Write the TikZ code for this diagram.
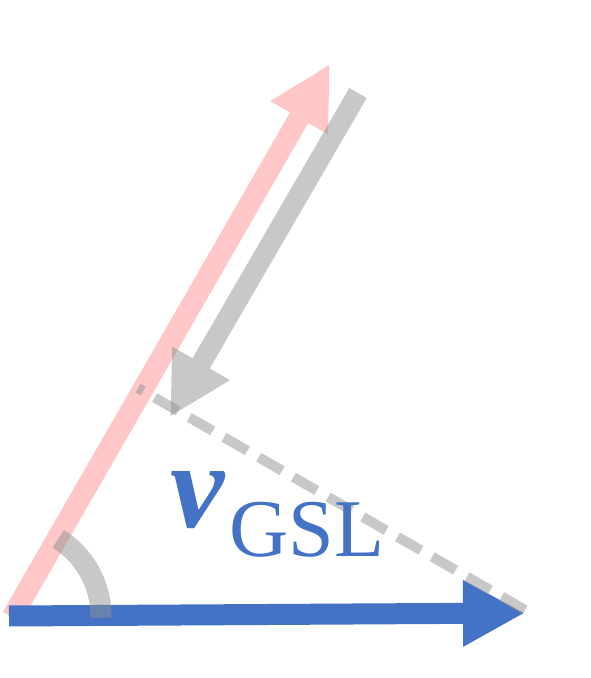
\documentclass[tikz,border=0pt]{standalone}
\usepackage{fontspec}
\setmainfont{Liberation Serif}
\usetikzlibrary{arrows.meta}
\definecolor{vblue}{HTML}{4472C4}
\definecolor{vpink}{RGB}{255,143,143}
\definecolor{vgray}{RGB}{145,145,145}

\begin{document}
\begin{tikzpicture}[x=1pt, y=1pt,
                    fat/.style={line width=21pt,
                      -{Triangle[length=62pt,width=62pt]}}]
  \useasboundingbox (0,0) rectangle (590,678);
  \coordinate (o) at (9,62);
  \coordinate (b) at (525,65);
  \coordinate (p0) at (12,61);
  \coordinate (p) at (330,614);
  \coordinate (g0) at (358,585);
  \coordinate (g) at (170,261);
  \coordinate (f) at (138,290);
  % velocity along the slope and back
  \begin{scope}[transparency group, opacity=0.5]
    \draw[fat, vpink] (p0) -- (p);
  \end{scope}
  \begin{scope}[transparency group, opacity=0.5]
    \draw[fat, vgray, line width=20pt] (g0) -- (g);
  \end{scope}
  \draw[fat, vblue] (o) -- (b);
  % projection and angle
  \draw[vgray, opacity=0.5, line width=10pt, dash pattern=on 27pt off 13pt]
    (b) ++(0,3) -- (f);
  \draw[vgray, opacity=0.5, line width=21pt] (10,62) ++(-1:91)
    arc[start angle=-1, end angle=58, radius=91];
  \node[anchor=base west, inner sep=0, text=vblue] (vgsl) at (170,150)
    {{\fontsize{122}{122}\selectfont\bfseries\itshape v}\hspace{5pt}%
     {\fontsize{82}{82}\selectfont\raisebox{-29pt}{GSL}}};
\end{tikzpicture}
\end{document}
